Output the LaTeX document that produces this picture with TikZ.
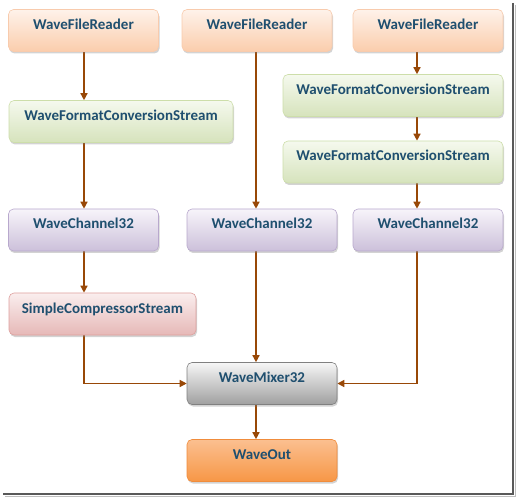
\documentclass[tikz,border=0pt]{standalone}
\usepackage{fontspec}
\setmainfont{Carlito}
\usepackage{tikz}
\usetikzlibrary{arrows.meta,shadows}
\definecolor{labeltext}{HTML}{1F4F6F}
\definecolor{flowbrown}{HTML}{984807}
\tikzstyle{Box}=[shape=rectangle, rounded corners=5pt, minimum width=150pt, minimum height=42pt, line width=0.6pt, text=labeltext, font=\fontsize{15}{17}\selectfont\bfseries, text height=10pt, text depth=12pt, drop shadow={shadow xshift=1pt, shadow yshift=-2pt, opacity=0.35}]
\tikzstyle{Reader}=[style=Box, draw={rgb,255:red,248;green,203;blue,173}, top color={rgb,255:red,254;green,242;blue,234}, bottom color={rgb,255:red,251;green,205;blue,172}]
\tikzstyle{Converter}=[style=Box, draw={rgb,255:red,205;green,222;blue,170}, top color={rgb,255:red,245;green,249;blue,238}, bottom color={rgb,255:red,214;green,227;blue,188}]
\tikzstyle{Channel}=[style=Box, draw={rgb,255:red,184;green,168;blue,205}, top color={rgb,255:red,247;green,244;blue,250}, bottom color={rgb,255:red,204;green,192;blue,218}]
\tikzstyle{Compressor}=[style=Box, draw={rgb,255:red,222;green,160;blue,158}, top color={rgb,255:red,250;green,238;blue,238}, bottom color={rgb,255:red,230;green,184;blue,183}]
\tikzstyle{Mixer}=[style=Box, draw={rgb,255:red,128;green,128;blue,128}, top color={rgb,255:red,246;green,246;blue,246}, bottom color={rgb,255:red,160;green,160;blue,160}]
\tikzstyle{Output}=[style=Box, draw={rgb,255:red,240;green,140;blue,60}, top color={rgb,255:red,251;green,192;blue,144}, bottom color={rgb,255:red,247;green,150;blue,70}]
\tikzstyle{arrow}=[line width=1.4pt, draw=flowbrown, -{Triangle[length=7pt, width=7pt]}]
\pgfdeclarelayer{nodelayer}
\pgfdeclarelayer{edgelayer}
\pgfsetlayers{edgelayer, nodelayer, main}
\begin{document}
\begin{tikzpicture}[x=1pt, y=-1pt]
	\useasboundingbox (0, 0) rectangle (517, 497);
	\begin{pgfonlayer}{nodelayer}
		\node [style=Reader] (readerA) at (83.5, 30.5) {WaveFileReader};
		\node [style=Reader] (readerB) at (257, 30.5) {WaveFileReader};
		\node [style=Reader] (readerC) at (428, 30.5) {WaveFileReader};
		\node [style=Converter, minimum width=224pt] (convA) at (121, 121.5) {WaveFormatConversionStream};
		\node [style=Converter, minimum width=220pt] (convC1) at (393, 95.5) {WaveFormatConversionStream};
		\node [style=Converter, minimum width=220pt] (convC2) at (393, 162) {WaveFormatConversionStream};
		\node [style=Channel] (chanA) at (83.5, 230) {WaveChannel32};
		\node [style=Channel] (chanB) at (262, 230) {WaveChannel32};
		\node [style=Channel] (chanC) at (428, 230) {WaveChannel32};
		\node [style=Compressor, minimum width=187pt] (compA) at (102.5, 314) {SimpleCompressorStream};
		\node [style=Mixer] (mixer) at (262, 383.5) {WaveMixer32};
		\node [style=Output] (waveout) at (262, 460.5) {WaveOut};
		% lanes of the arrows
		\coordinate (laneA) at (84, 0);
		\coordinate (laneB) at (256, 0);
		\coordinate (laneC) at (417, 0);
	\end{pgfonlayer}
	\begin{pgfonlayer}{edgelayer}
		\draw [style=arrow] (readerA.south -| laneA) to (convA.north -| laneA);
		\draw [style=arrow] (convA.south -| laneA) to (chanA.north -| laneA);
		\draw [style=arrow] (chanA.south -| laneA) to (compA.north -| laneA);
		\draw [style=arrow] (compA.south -| laneA) |- (mixer.west);

		\draw [style=arrow] (readerB.south -| laneB) to (chanB.north -| laneB);
		\draw [style=arrow] (chanB.south -| laneB) to (mixer.north -| laneB);
		\draw [style=arrow] (mixer.south -| laneB) to (waveout.north -| laneB);

		\draw [style=arrow] (readerC.south -| laneC) to (convC1.north -| laneC);
		\draw [style=arrow] (convC1.south -| laneC) to (convC2.north -| laneC);
		\draw [style=arrow] (convC2.south -| laneC) to (chanC.north -| laneC);
		\draw [style=arrow] (chanC.south -| laneC) |- (mixer.east);
	\end{pgfonlayer}
	% frame of the screenshot
	\draw [line width=1.5pt, draw=black!65] (513, 3) -- (513, 494) -- (3, 494);
	\draw [line width=1pt, draw=black!25] (515, 5) -- (515, 496) -- (5, 496);
\end{tikzpicture}
\end{document}
